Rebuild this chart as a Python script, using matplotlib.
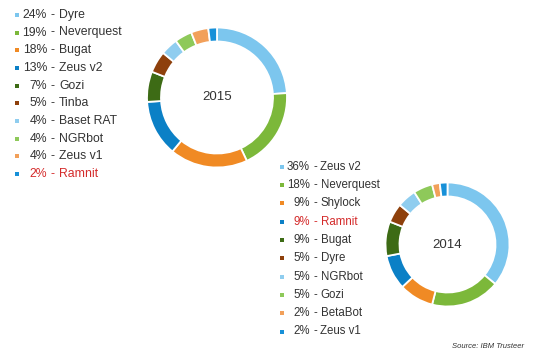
import matplotlib
matplotlib.use("Agg")
import matplotlib.pyplot as plt

# ---- data ----
names_2015 = ["Dyre", "Neverquest", "Bugat", "Zeus v2", "Gozi", "Tinba",
              "Baset RAT", "NGRbot", "Zeus v1", "Ramnit"]
share_2015 = [24, 19, 18, 13, 7, 5, 4, 4, 4, 2]

names_2014 = ["Zeus v2", "Neverquest", "Shylock", "Ramnit", "Bugat", "Dyre",
              "NGRbot", "Gozi", "BetaBot", "Zeus v1"]
share_2014 = [36, 18, 9, 9, 9, 5, 5, 5, 2, 2]

highlight = "Ramnit"

# ---- style ----
colors = ["#7cc6ee", "#7cb83a", "#f08a24", "#0b80c6", "#3d6b15", "#8e400c",
          "#8fcdef", "#8ec95a", "#f2a05a", "#1790d8"]
TEXT = "#333333"
RED = "#d42a2a"
FONT = "Liberation Sans"

W, H = 534, 351
fig = plt.figure(figsize=(W / 100, H / 100), dpi=100)
ax = fig.add_axes([0, 0, 1, 1])


def Y(py):
    return H - py


def donut(values, cx, cy, r, w, label):
    ax.pie(values, colors=colors, startangle=90, counterclock=False,
           center=(cx, Y(cy)), radius=r,
           wedgeprops=dict(width=w, edgecolor="white", linewidth=1.3))
    ax.text(cx, Y(cy), label, ha="center", va="center", fontsize=9.5,
            color=TEXT, family=FONT)


def legend(names, values, mx, pct_x, dash_dx, name_dx, y0, dy, fs, ms):
    for i, (n, v) in enumerate(zip(names, values)):
        y = Y(y0 + i * dy)
        c = RED if n == highlight else TEXT
        ax.scatter([mx], [y], marker="s", s=ms, color=colors[i], linewidths=0)
        ax.text(pct_x, y, f"{v}%", ha="right", va="center", fontsize=fs,
                color=c, family=FONT)
        ax.text(pct_x + dash_dx, y, "-", ha="left", va="center", fontsize=fs,
                color=c, family=FONT)
        ax.text(pct_x + name_dx, y, n, ha="left", va="center", fontsize=fs,
                color=c, family=FONT)


donut(share_2015, 217, 97.5, 70, 14, "2015")
donut(share_2014, 447.5, 244.5, 62, 14, "2014")

legend(names_2015, share_2015, 17, 47, 3.5, 12, 14.8, 17.7, 8.8, 9)
legend(names_2014, share_2014, 282, 310, 3, 10.5, 166.8, 18.3, 8.3, 8)

ax.text(524, Y(346), "Source: IBM Trusteer", ha="right", va="center",
        fontsize=5.5, style="italic", color=TEXT, family=FONT)

ax.set_xlim(0, W)
ax.set_ylim(0, H)
ax.set_aspect("equal")
ax.axis("off")

fig.savefig("out.png", dpi=100)
